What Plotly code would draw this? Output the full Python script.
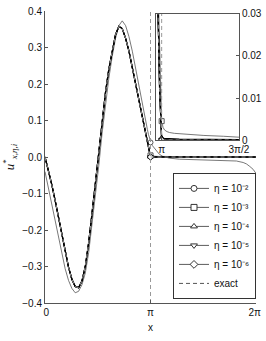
import math
import plotly.graph_objects as go

PI = math.pi

# shared x grid (radians)
x_grid = [0, 0.1, 0.2, 0.3, 0.4, 0.5, 0.6, 0.7, 0.8, 0.9, 1.0, 1.1, 1.2, 1.3, 1.4, 1.5,
          1.6, 1.7, 1.8, 1.9, 2.0, 2.1, 2.2, 2.3, 2.4, 2.5, 2.6, 2.7, 2.8, 2.9, 3.0,
          3.05, 3.08, 3.1, 3.12, PI, 3.17, 3.2, 3.25, 3.3, 3.4, 3.5, 3.7, 4.0, 4.4,
          4.71, 5.0, 5.4, 5.7, 5.9, 6.0, 6.1, 6.2, 2 * PI]

eta_1e2 = [-0.04, -0.085, -0.13, -0.178, -0.225, -0.268, -0.306, -0.338, -0.36, -0.372,
           -0.368, -0.35, -0.318, -0.262, -0.188, -0.105, -0.025, 0.065, 0.145, 0.215,
           0.275, 0.325, 0.36, 0.373, 0.36, 0.33, 0.29, 0.24, 0.19, 0.14, 0.095,
           0.075, 0.062, 0.055, 0.048, 0.04, 0.036, 0.031, 0.025, 0.018, 0.008, 0.002,
           -0.003, -0.006, -0.007, -0.007, -0.008, -0.009, -0.011, -0.015, -0.019,
           -0.026, -0.034, -0.045]

eta_1e3 = [0, -0.036, -0.075, -0.118, -0.165, -0.213, -0.26, -0.302, -0.335, -0.355,
           -0.358, -0.34, -0.30, -0.235, -0.155, -0.07, 0.012, 0.1, 0.176, 0.24,
           0.292, 0.335, 0.358, 0.352, 0.325, 0.29, 0.245, 0.2, 0.155, 0.11, 0.062,
           0.042, 0.028, 0.017, 0.009, 0.0045, 0.003, 0.0024, 0.002, 0.0018, 0.0016,
           0.0015, 0.0013, 0.0011, 0.0009, 0.0007, 0.0006, 0.0005, 0.0004, 0.0003,
           0.0002, 0.0001, 0.0, -0.0004]

eta_1e4 = [0, -0.036, -0.075, -0.118, -0.165, -0.213, -0.26, -0.302, -0.335, -0.355,
           -0.358, -0.34, -0.30, -0.235, -0.155, -0.07, 0.012, 0.1, 0.176, 0.24,
           0.292, 0.335, 0.358, 0.352, 0.325, 0.29, 0.245, 0.2, 0.155, 0.11, 0.06,
           0.038, 0.024, 0.012, 0.0045, 0.0005, 0.0004, 0.0004, 0.0003, 0.0003, 0.0003,
           0.0002, 0.0002, 0.0002, 0.0001, 0.0001, 0.0001, 0.0001, 0.0, 0.0,
           0.0, 0.0, 0.0, 0.0]

eta_1e5 = [0, -0.036, -0.075, -0.118, -0.165, -0.213, -0.26, -0.302, -0.335, -0.355,
           -0.358, -0.34, -0.30, -0.235, -0.155, -0.07, 0.012, 0.1, 0.176, 0.24,
           0.292, 0.335, 0.358, 0.352, 0.325, 0.29, 0.245, 0.2, 0.155, 0.11, 0.06,
           0.038, 0.024, 0.012, 0.004, 0.0001, 0.0001, 0.0, 0.0, 0.0, 0.0,
           0.0, 0.0, 0.0, 0.0, 0.0, 0.0, 0.0, 0.0, 0.0,
           0.0, 0.0, 0.0, 0.0]

eta_1e6 = [0, -0.036, -0.075, -0.118, -0.165, -0.213, -0.26, -0.302, -0.335, -0.355,
           -0.358, -0.34, -0.30, -0.235, -0.155, -0.07, 0.012, 0.1, 0.176, 0.24,
           0.292, 0.335, 0.358, 0.352, 0.325, 0.29, 0.245, 0.2, 0.155, 0.11, 0.06,
           0.038, 0.024, 0.012, 0.004, 0.0, 0.0, 0.0, 0.0, 0.0, 0.0,
           0.0, 0.0, 0.0, 0.0, 0.0, 0.0, 0.0, 0.0, 0.0,
           0.0, 0.0, 0.0, 0.0]

# exact solution: smooth part on [0, pi], jump at pi, zero on [pi, 2pi]
exact_x = x_grid[:36] + [None, PI, PI, None, PI, 2 * PI]
exact_y = eta_1e6[:36] + [None, -0.4, 0.4, None, 0.0, 0.0]

series_names = ["η = 10⁻²", "η = 10⁻³", "η = 10⁻⁴", "η = 10⁻⁵", "η = 10⁻⁶"]
series_vals = [eta_1e2, eta_1e3, eta_1e4, eta_1e5, eta_1e6]
series_sym = ["circle", "square", "triangle-up", "triangle-down", "diamond"]
series_col = ["#555555", "#555555", "#000000", "#000000", "#000000"]
series_w = [0.8, 0.8, 1.2, 1.2, 1.2]
in_inset = [False, True, True, True, True]

PI_IDX = 35

fig = go.Figure()

for name, vals, sym, col, w, ins in zip(series_names, series_vals, series_sym,
                                        series_col, series_w, in_inset):
    axes = [("x", "y")] + ([("x2", "y2")] if ins else [])
    for xa, ya in axes:
        fig.add_trace(go.Scatter(x=x_grid, y=vals, mode="lines", xaxis=xa, yaxis=ya,
                                 line=dict(color=col, width=w), showlegend=False,
                                 hoverinfo="skip"))
        fig.add_trace(go.Scatter(x=[x_grid[PI_IDX]], y=[vals[PI_IDX]], mode="markers",
                                 xaxis=xa, yaxis=ya, showlegend=False, hoverinfo="skip",
                                 marker=dict(symbol=sym, size=5, color="white",
                                             line=dict(color=col, width=1))))

for xa, ya in [("x", "y"), ("x2", "y2")]:
    fig.add_trace(go.Scatter(x=exact_x, y=exact_y, mode="lines", xaxis=xa, yaxis=ya,
                             line=dict(color="#999999", width=1, dash="4px,3px"),
                             showlegend=False, hoverinfo="skip", connectgaps=False))

# legend entries
for name, sym in zip(series_names, series_sym):
    fig.add_trace(go.Scatter(x=[None], y=[None], mode="lines+markers", name=name,
                             line=dict(color="#333333", width=0.8),
                             marker=dict(symbol=sym, size=6, color="white",
                                         line=dict(color="#333333", width=1))))
fig.add_trace(go.Scatter(x=[None], y=[None], mode="lines", name="exact",
                         line=dict(color="#555555", width=1, dash="4px,3px")))

axis_common = dict(showgrid=False, zeroline=False, showline=True, linecolor="#555555",
                   linewidth=1, ticks="inside", ticklen=3, tickcolor="#555555",
                   automargin=False,
                   tickfont=dict(size=10, color="#111111"))

fig.update_layout(
    width=266, height=341,
    margin=dict(l=45, r=10, t=11, b=38),
    paper_bgcolor="white", plot_bgcolor="white",
    font=dict(family="Liberation Sans, Arial, sans-serif", size=10, color="#111111"),
    xaxis=dict(range=[0, 2 * PI], tickvals=[0, PI, 2 * PI],
               ticktext=["\u00a00", "π", "2π\u00a0"],
               title=dict(text="x", font=dict(size=10), standoff=6), **axis_common),
    yaxis=dict(range=[-0.4, 0.4], dtick=0.1, tickformat=".1f",
               title=dict(text="<i>u</i><sup>*</sup><sub><i>x,η,i</i></sub>",
                          font=dict(family="Liberation Serif, serif", size=13), standoff=4),
               **axis_common),
    xaxis2=dict(domain=[0.526, 0.919], anchor="y2", range=[3.026, 1.5 * PI],
                tickvals=[PI, 1.5 * PI], ticktext=["π", "3π/2"], mirror=True,
                **axis_common),
    yaxis2=dict(domain=[0.558, 0.99], anchor="x2", range=[0, 0.03], side="right",
                tickvals=[0, 0.01, 0.02, 0.03], ticktext=["0", "0.01", "0.02", "0.03"],
                mirror=True, **axis_common),
    legend=dict(x=1.0, y=0.014, xanchor="right", yanchor="bottom",
                bgcolor="white", bordercolor="#333333", borderwidth=1,
                font=dict(size=10), itemwidth=30, tracegroupgap=0),
    showlegend=True,
)

fig.write_html("out.html", config={"displayModeBar": False},
               post_script="document.body.style.margin='0';")
